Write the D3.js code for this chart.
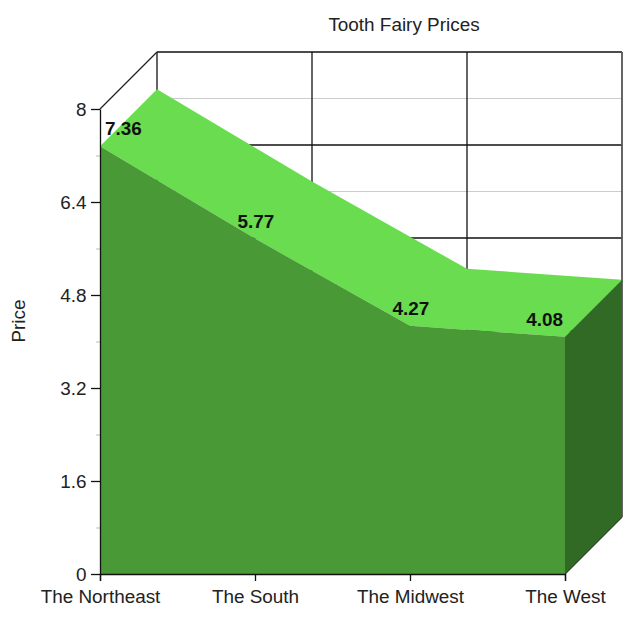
<!DOCTYPE html>
<html>
<head>
    <title>Tooth Fairy Prices</title>
    <script src="https://d3js.org/d3.v7.min.js"></script>
    <style>
        body { margin: 0; background: #fff; }
        text { font-family: "Liberation Sans", Arial, sans-serif; fill: #222; }
    </style>
</head>
<body>
    <svg class="chart"></svg>
<script>
    var regions = ["The Northeast", "The South", "The Midwest", "The West"];
    var prices = [7.36, 5.77, 4.27, 4.08];
    var majorTicks = [0, 1.6, 3.2, 4.8, 6.4, 8];
    var minorTicks = [0.8, 2.4, 4, 5.6, 7.2];

    var width = 632, height = 620;
    var left = 100, right = 565, top_ = 109, bottom = 574;
    var depth = 57;
    var fontSize = 18.9;

    var svg = d3.select(".chart").attr("width", width).attr("height", height);

    var x = d3.scalePoint().domain(regions).range([left, right]);
    var y = d3.scaleLinear().domain([0, 8]).range([bottom, top_]);

    // back wall, sits behind the area
    var wall = svg.append("g").attr("fill", "none");
    wall.selectAll(".minor").data(minorTicks).enter().append("line")
        .attr("x1", left + depth).attr("x2", right + depth)
        .attr("y1", d => y(d) - depth).attr("y2", d => y(d) - depth)
        .attr("stroke", "#ccc").attr("stroke-width", 1.2);
    wall.selectAll(".major").data(majorTicks).enter().append("line")
        .attr("x1", left + depth).attr("x2", right + depth)
        .attr("y1", d => y(d) - depth).attr("y2", d => y(d) - depth)
        .attr("stroke", "#111").attr("stroke-width", 1.3);
    wall.selectAll(".vert").data(regions).enter().append("line")
        .attr("x1", d => x(d) + depth).attr("x2", d => x(d) + depth)
        .attr("y1", y(8) - depth).attr("y2", y(0) - depth)
        .attr("stroke", (d, i) => i === regions.length - 1 ? "#555" : "#111")
        .attr("stroke-width", (d, i) => i === regions.length - 1 ? 1.8 : 1.3);
    // depth edges
    wall.append("line")
        .attr("x1", left).attr("y1", y(8))
        .attr("x2", left + depth).attr("y2", y(8) - depth)
        .attr("stroke", "#222").attr("stroke-width", 1.3);
    wall.append("line")
        .attr("x1", right).attr("y1", y(0))
        .attr("x2", right + depth).attr("y2", y(0) - depth)
        .attr("stroke", "#222").attr("stroke-width", 1.3);

    // top face
    var last = regions.length - 1;
    var topLine = regions.map((d, i) => [x(d), y(prices[i])]);
    var backLine = topLine.map(p => [p[0] + depth, p[1] - depth]).reverse();
    var poly = d3.line();
    svg.append("path")
        .attr("d", poly(topLine.concat(backLine)) + "Z")
        .attr("fill", "#6adc4f");

    // right side
    svg.append("path")
        .attr("d", poly([
            [x(regions[last]), y(prices[last])],
            [x(regions[last]) + depth, y(prices[last]) - depth],
            [x(regions[last]) + depth, y(0) - depth],
            [x(regions[last]), y(0)]
        ]) + "Z")
        .attr("fill", "#316a25");

    // front
    var area = d3.area()
        .x((d, i) => x(regions[i]))
        .y0(y(0))
        .y1(d => y(d));
    svg.append("path").datum(prices).attr("d", area).attr("fill", "#499936");

    // axes
    var xAxis = d3.axisBottom(x).tickSize(7).tickSizeOuter(7).tickPadding(9);
    var gx = svg.append("g").attr("transform", "translate(0," + y(0) + ")").call(xAxis);
    gx.selectAll("text").attr("font-size", fontSize).style("font-family", "inherit");
    gx.selectAll("path,line").attr("stroke", "#111").attr("stroke-width", 1.3);

    var yMinor = d3.axisLeft(y).tickValues(minorTicks).tickFormat("").tickSize(4);
    var gm = svg.append("g").attr("transform", "translate(" + left + ",0)").call(yMinor);
    gm.select("path").remove();
    gm.selectAll("line").attr("stroke", "#bbb");

    var yAxis = d3.axisLeft(y).tickValues(majorTicks).tickFormat(d3.format("")).tickSize(9).tickSizeOuter(0).tickPadding(4.5);
    var gy = svg.append("g").attr("transform", "translate(" + left + ",0)").call(yAxis);
    gy.selectAll("text").attr("font-size", fontSize).style("font-family", "inherit");
    gy.selectAll("path,line").attr("stroke", "#111").attr("stroke-width", 1.3);

    // value labels
    svg.selectAll(".val").data(prices).enter().append("text")
        .attr("class", "val")
        .attr("x", (d, i) => x(regions[i]) + (i === 0 ? 5 : i === last ? -2 : 1))
        .attr("y", d => y(d) - 11)
        .attr("text-anchor", (d, i) => i === 0 ? "start" : i === last ? "end" : "middle")
        .attr("font-size", fontSize)
        .attr("font-weight", "bold")
        .style("fill", "#111")
        .text(d => d);

    // titles
    svg.append("text")
        .attr("x", 404).attr("y", 31)
        .attr("text-anchor", "middle")
        .attr("font-size", fontSize)
        .text("Tooth Fairy Prices");
    svg.append("text")
        .attr("transform", "translate(25,321) rotate(-90)")
        .attr("text-anchor", "middle")
        .attr("font-size", fontSize)
        .text("Price");
</script>
</body>
</html>
